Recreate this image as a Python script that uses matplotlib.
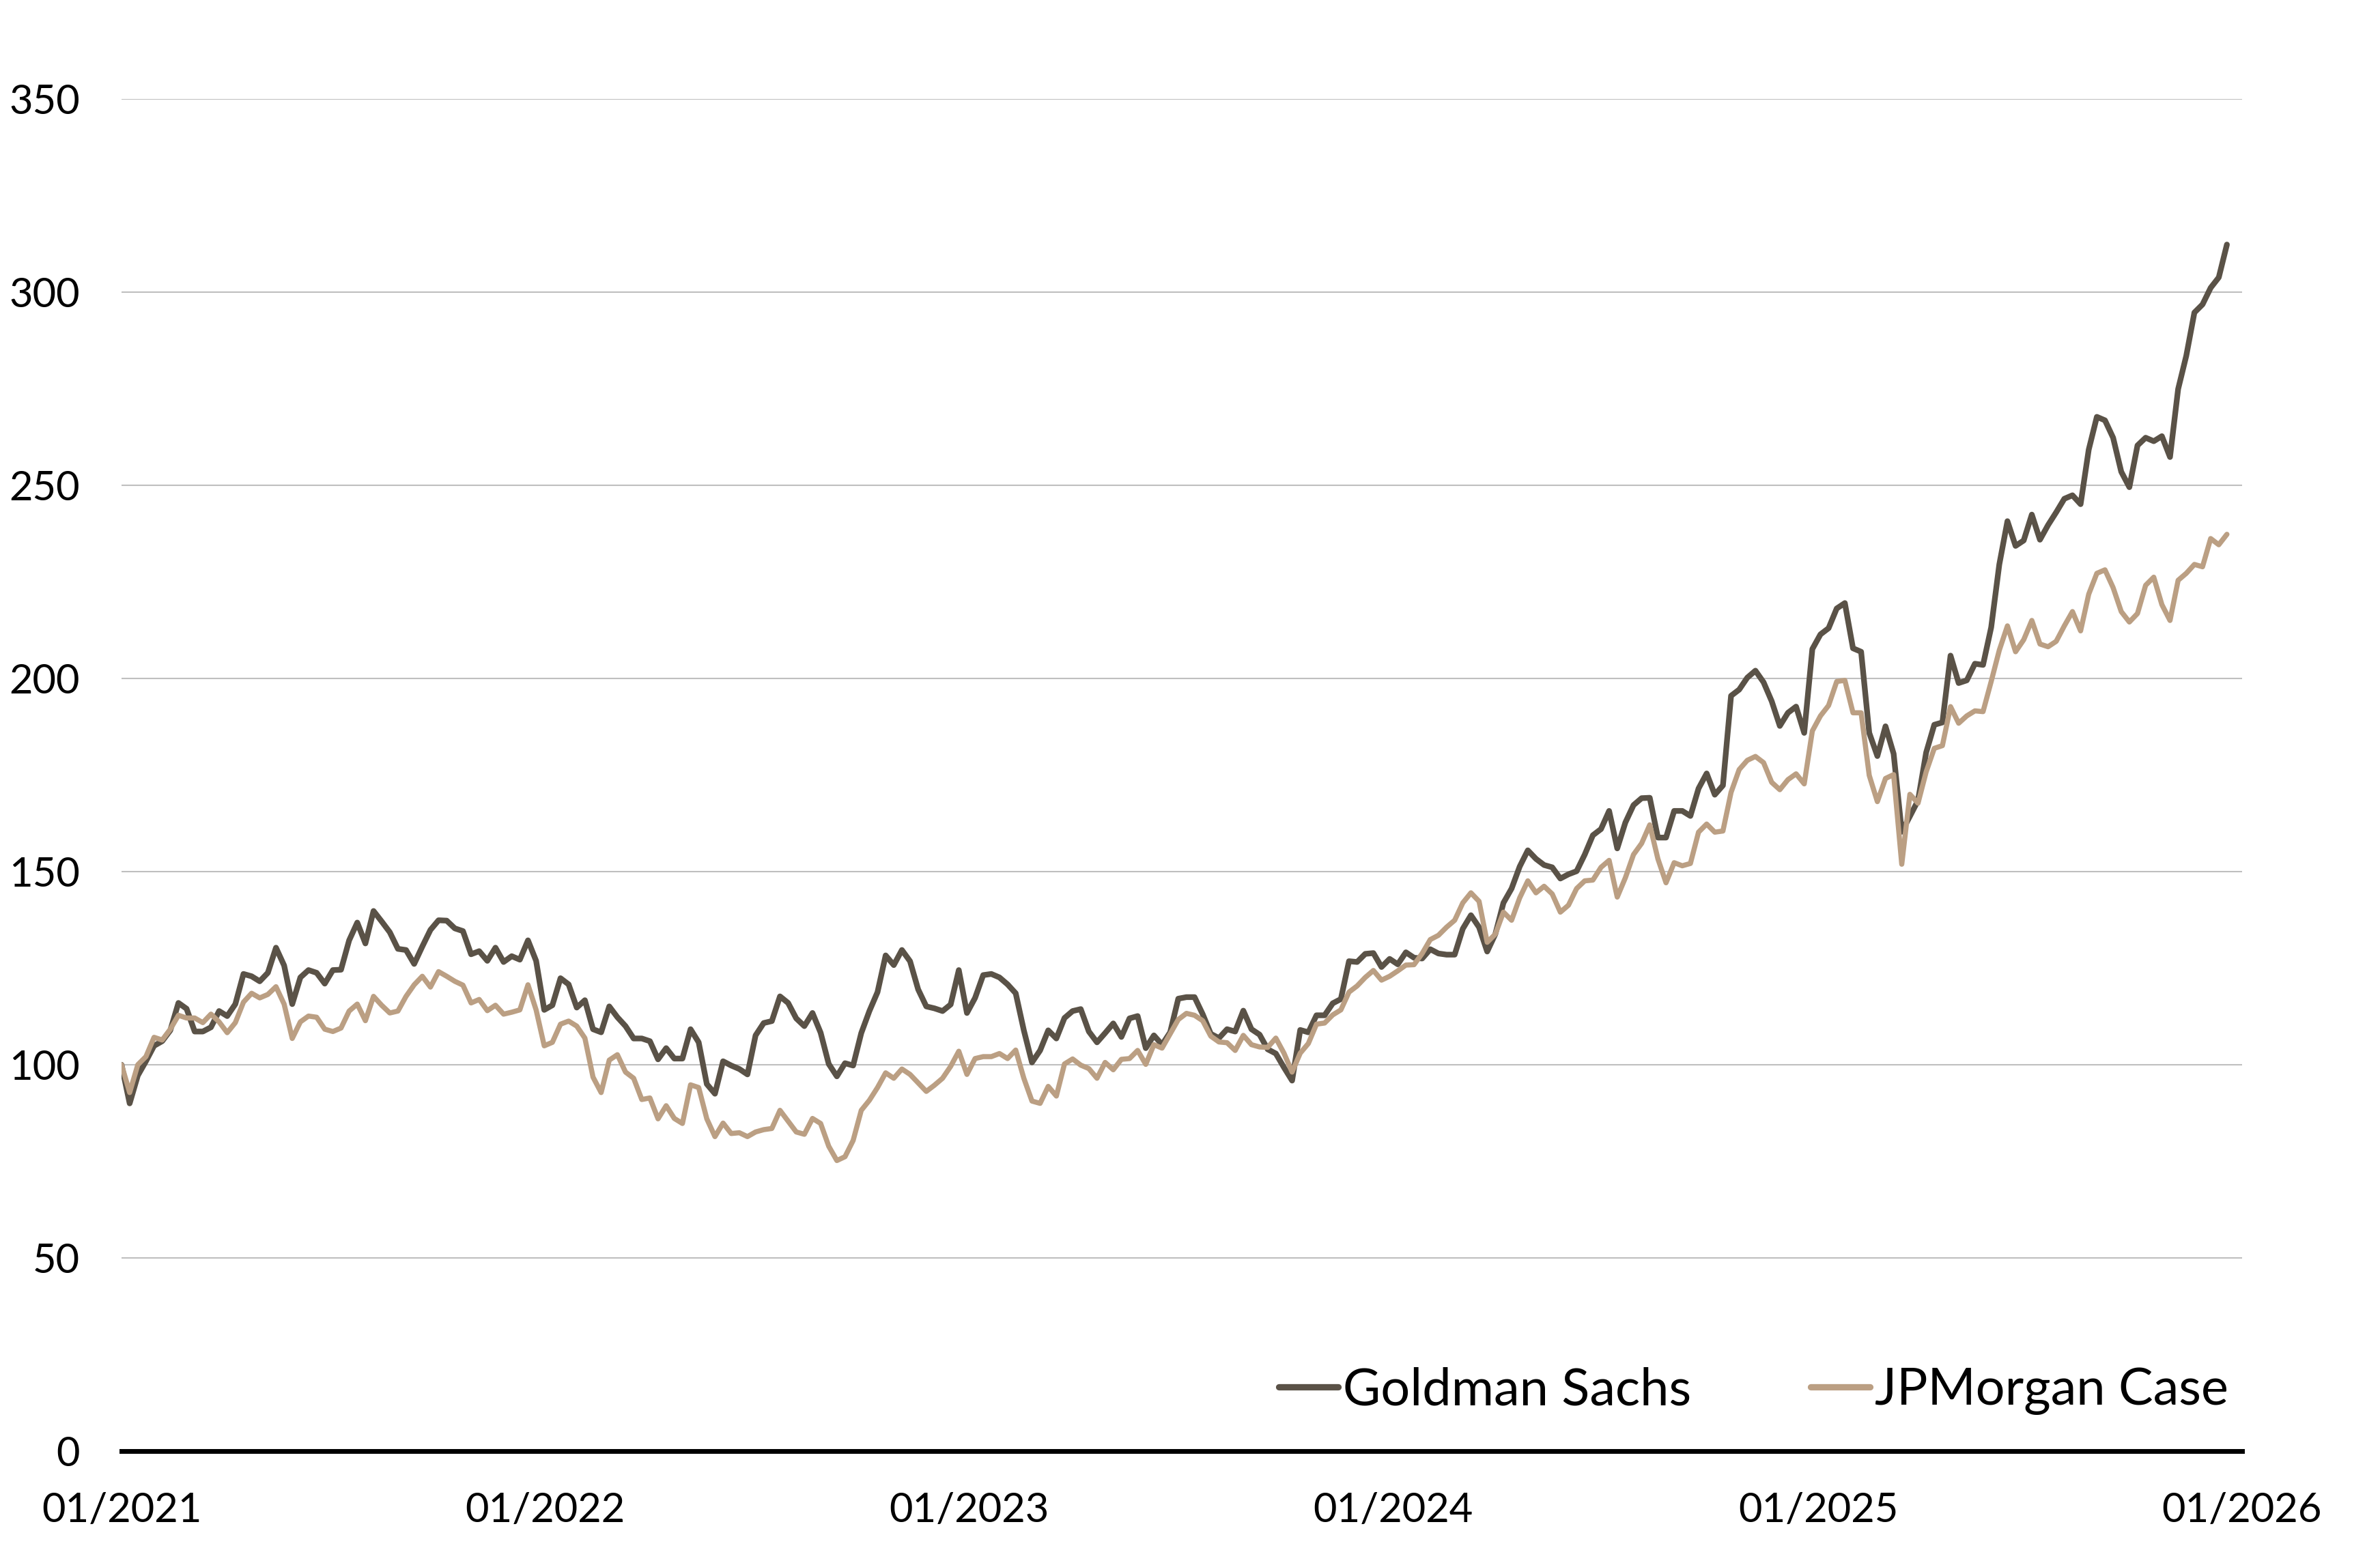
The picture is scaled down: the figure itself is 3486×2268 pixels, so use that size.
import matplotlib
matplotlib.use('Agg')
import matplotlib.pyplot as plt
import matplotlib.dates as mdates
import pandas as pd

series_names = ["Goldman Sachs", "JPMorgan Case"]

goldman = [
    100, 90.0, 97.2, 100.9, 104.9, 106.1, 108.9, 116.0, 114.5, 108.6, 108.6, 109.7, 113.9, 112.6, 115.7,
    123.5, 122.9, 121.6, 123.8, 130.3, 125.7, 115.7, 122.6, 124.5, 123.8, 121.0, 124.5, 124.6, 132.2,
    136.8, 131.4, 139.8, 137.1, 134.3, 130.0, 129.7, 126.1, 130.6, 134.9, 137.4, 137.3, 135.3, 134.6,
    128.6, 129.4, 126.9, 130.3, 126.6, 128.1, 127.2, 132.2, 126.9, 114.2,
    115.4, 122.4, 120.8, 114.8, 116.7, 109.2, 108.4, 115.1, 112.3, 110.0, 106.8, 106.8, 106.1, 101.4,
    104.3, 101.6, 101.6, 109.2, 105.8, 95.0, 92.5, 100.9, 99.8, 98.9, 97.5, 107.6, 110.8, 111.3, 117.7,
    116.0, 112.0, 110.0, 113.4, 108.3, 100.2, 97.0, 100.4, 99.8, 108.2, 113.9, 118.8, 128.3, 125.8,
    129.7, 126.8, 119.5, 115.1, 114.6, 113.9, 115.6, 124.5, 113.4, 117.3,
    123.2, 123.5, 122.6, 120.8, 118.5, 108.9, 100.6, 103.7, 108.9, 106.8, 112.1, 113.9, 114.4, 108.6,
    105.8, 108.2, 110.7, 107.2, 112.0, 112.6, 104.3, 107.6, 105.2, 108.4, 117.1, 117.5, 117.5, 113.1,
    108.0, 106.9, 109.2, 108.6, 114.0, 109.2, 107.8, 104.0, 102.9, 99.3, 95.9, 109.0, 108.4, 112.8,
    112.8, 115.9, 117.0, 126.8, 126.6, 128.7, 128.9, 125.3, 127.4, 126.0,
    129.1, 127.7, 127.5, 129.9, 128.8, 128.5, 128.5, 135.2, 138.7, 135.6, 129.3, 133.8, 141.9, 145.6,
    151.3, 155.5, 153.3, 151.7, 151.1, 148.2, 149.3, 150.1, 154.4, 159.4, 161.0, 165.7, 156.0, 162.7,
    167.2, 169.0, 169.1, 158.8, 158.8, 165.7, 165.7, 164.4, 171.5, 175.4, 169.9, 172.3, 195.5, 197.1,
    200.2, 202.0, 199.0, 194.1, 187.7, 191.1, 192.7, 185.9, 207.6, 211.4,
    213.0, 218.1, 219.5, 207.8, 206.9, 185.9, 179.9, 187.6, 180.5, 160.3, 164.3, 168.4, 180.8, 188.0,
    188.6, 205.9, 198.8, 199.5, 203.8, 203.5, 213.2, 229.5, 240.7, 234.3, 235.7, 242.4, 235.9, 239.7,
    243.0, 246.5, 247.4, 245.1, 259.2, 267.7, 266.8, 262.3, 253.5, 249.5, 260.3, 262.3, 261.4, 262.7,
    257.3, 274.9, 283.5, 294.7, 296.8, 301.1, 303.8, 312.3,
]

jpmorgan = [
    100, 92.8, 100, 102.1, 107.1, 106.4, 109.2, 112.8, 112.1, 112.1, 110.9, 113.1, 111.1, 108.3, 110.9,
    116.2, 118.5, 117.3, 118.2, 120.2, 115.7, 106.8, 111.1, 112.6, 112.3, 109.2, 108.6, 109.5, 113.9,
    115.7, 111.4, 117.7, 115.4, 113.4, 113.9, 117.7, 120.7, 122.9, 120.1, 124.1, 122.9, 121.6, 120.6,
    116.0, 116.9, 114.0, 115.4, 113.1, 113.6, 114.2, 120.7, 114.2, 104.9,
    105.8, 110.5, 111.3, 110.0, 106.9, 96.8, 92.8, 101.2, 102.6, 98.1, 96.5, 91.0, 91.4, 86.0, 89.4,
    86.1, 84.8, 94.8, 94.1, 86.0, 81.4, 84.9, 82.2, 82.4, 81.4, 82.6, 83.2, 83.5, 88.2, 85.4, 82.6,
    82.0, 86.1, 84.8, 78.9, 75.2, 76.2, 80.4, 88.2, 90.8, 94.1, 97.9, 96.5, 98.9, 97.5, 95.3, 93.1,
    94.7, 96.5, 99.6, 103.5, 97.5, 101.6,
    102.1, 102.1, 102.9, 101.6, 103.8, 96.5, 90.6, 90.0, 94.4, 91.9, 100.2, 101.5, 99.9, 99.0, 96.5,
    100.6, 98.7, 101.4, 101.6, 103.7, 100.1, 105.2, 104.3, 108.0, 111.7, 113.3, 112.8, 111.4, 107.4,
    105.9, 105.7, 103.7, 107.6, 105.2, 104.6, 104.5, 106.9, 103.0, 98.1, 103.0, 105.5, 110.5, 110.8,
    112.9, 114.2, 118.8, 120.4, 122.6, 124.4, 121.9, 122.9, 124.3,
    125.8, 125.9, 128.8, 132.4, 133.5, 135.6, 137.4, 141.9, 144.5, 142.3, 131.7, 133.8, 139.5, 137.4,
    143.2, 147.6, 144.5, 146.2, 144.2, 139.5, 141.3, 145.6, 147.6, 147.8, 151.1, 152.9, 143.4, 148.4,
    154.4, 157.3, 162.1, 153.3, 147.1, 152.3, 151.5, 152.1, 160.2, 162.3, 160.2, 160.5, 170.5, 176.4,
    178.8, 179.8, 178.2, 173.1, 171.2, 173.8, 175.3, 172.7, 186.4, 190.3,
    193.0, 199.2, 199.5, 191.1, 191.1, 174.9, 168.1, 174.1, 175.1, 151.9, 170.0, 167.7, 175.8, 181.9,
    182.6, 192.7, 188.4, 190.3, 191.6, 191.4, 199.2, 207.3, 213.6, 206.9, 210.0, 215.0, 208.9, 208.2,
    209.6, 213.6, 217.3, 212.3, 221.8, 227.2, 228.1, 223.5, 217.3, 214.6, 216.8, 224.1, 226.2, 219.1,
    215.0, 225.4, 227.2, 229.5, 228.9, 236.2, 234.6, 237.3,
]

y_ticks = [0, 50, 100, 150, 200, 250, 300, 350]
x_tick_years = [2021, 2022, 2023, 2024, 2025, 2026]

dates = pd.date_range("2021-01-01", periods=len(goldman), freq="7D")

plt.rcParams['font.family'] = ['Lato', 'DejaVu Sans']

fig = plt.figure(figsize=(34.87, 22.68), dpi=100)
ax = fig.add_axes([0.05105, 0.06261, 0.8907, 0.8735])

ax.plot(dates, goldman, color="#5A5247", linewidth=6.0, label=series_names[0],
        solid_joinstyle='round', solid_capstyle='round', zorder=3)
ax.plot(dates, jpmorgan, color="#BB9F83", linewidth=5.4, label=series_names[1],
        solid_joinstyle='round', solid_capstyle='round', zorder=4)

ax.set_ylim(0, 350)
ax.set_yticks(y_ticks)
ax.set_yticklabels([str(v) for v in y_ticks])
ax.set_xlim(pd.Timestamp("2021-01-01"), pd.Timestamp("2026-01-01"))
ax.set_xticks([pd.Timestamp(f"{y}-01-01") for y in x_tick_years])
ax.xaxis.set_major_formatter(mdates.DateFormatter("%m/%Y"))

ax.yaxis.grid(True, color="#BFBFBF", linewidth=1.5)
ax.set_axisbelow(True)
for s in ["top", "right", "left"]:
    ax.spines[s].set_visible(False)
ax.spines["bottom"].set_color("black")
ax.spines["bottom"].set_linewidth(5)
ax.spines["bottom"].set_zorder(5)

ax.tick_params(axis='y', length=0, pad=44, labelsize=43, colors='black')
ax.tick_params(axis='x', length=0, pad=43, labelsize=43, colors='black')

leg = ax.legend(loc='center right', bbox_to_anchor=(0.9936, 0.0445), ncol=2, frameon=False,
                fontsize=54.5, handlelength=1.15, handletextpad=0.1, columnspacing=2.3,
                borderaxespad=0, borderpad=0)
for line in leg.get_lines():
    line.set_linewidth(6.7)
    line.set_solid_capstyle('round')

fig.savefig("out.png", dpi=100, facecolor="white")
